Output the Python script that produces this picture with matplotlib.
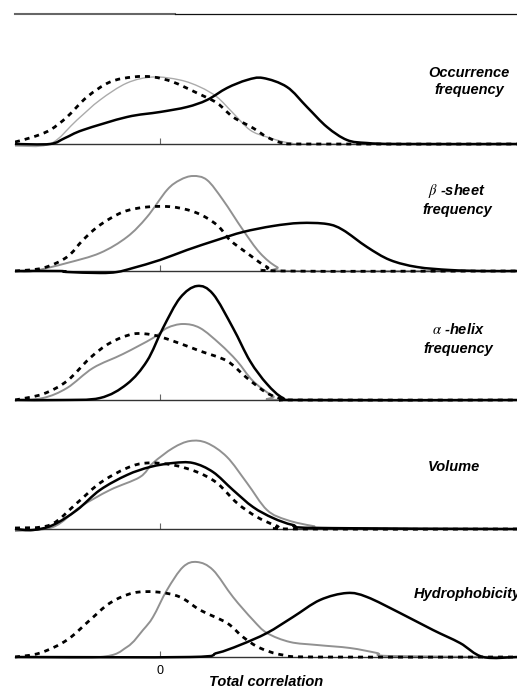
import matplotlib
matplotlib.use("Agg")
import matplotlib.pyplot as plt
from matplotlib.lines import Line2D
from matplotlib.path import Path
from matplotlib.patches import PathPatch

plt.rcParams["font.family"] = ["Liberation Sans", "DejaVu Sans"]
plt.rcParams["mathtext.fontset"] = "stix"

# Total correlation values (x) and density heights (y) for each property.
# Series: "all" = solid black, "partial" = grey, "random" = dashed black.
occ_black_x = [-0.29, -0.22, -0.19, -0.154, -0.066, 0.0, 0.054, 0.094, 0.134, 0.174, 0.206, 0.254, 0.294, 0.334, 0.374, 0.414, 0.48, 0.714]
occ_black_y = [0.0, 0.0, 0.06, 0.14, 0.27, 0.32, 0.37, 0.44, 0.56, 0.64, 0.66, 0.57, 0.37, 0.17, 0.04, 0.01, 0.0, 0.0]
occ_dash_x = [-0.29, -0.254, -0.22, -0.186, -0.146, -0.10, -0.054, -0.014, 0.026, 0.074, 0.114, 0.146, 0.186, 0.214, 0.246, 0.30, 0.714]
occ_dash_y = [0.02, 0.07, 0.14, 0.27, 0.47, 0.62, 0.67, 0.67, 0.62, 0.51, 0.41, 0.27, 0.16, 0.07, 0.01, 0.0, 0.0]
occ_grey_x = [-0.29, -0.22, -0.166, -0.12, -0.066, -0.014, 0.04, 0.08, 0.114, 0.146, 0.18, 0.214, 0.26, 0.32, 0.714]
occ_grey_y = [-0.02, 0.0, 0.24, 0.44, 0.61, 0.67, 0.64, 0.57, 0.47, 0.31, 0.14, 0.07, 0.01, 0.0, 0.0]

beta_black_x = [-0.29, -0.20, -0.186, -0.12, -0.086, -0.054, 0.0, 0.054, 0.114, 0.166, 0.226, 0.28, 0.334, 0.366, 0.414, 0.46, 0.514, 0.58, 0.646, 0.714]
beta_black_y = [0.0, 0.0, -0.01, -0.02, -0.01, 0.03, 0.11, 0.21, 0.31, 0.39, 0.45, 0.48, 0.47, 0.41, 0.24, 0.11, 0.04, 0.01, 0.0, 0.0]
beta_dash_x = [-0.29, -0.234, -0.186, -0.154, -0.12, -0.074, -0.026, 0.026, 0.074, 0.114, 0.14, 0.174, 0.214, 0.246, 0.714]
beta_dash_y = [0.0, 0.03, 0.14, 0.31, 0.46, 0.59, 0.64, 0.64, 0.58, 0.46, 0.31, 0.18, 0.04, 0.0, 0.0]
beta_grey_x = [-0.29, -0.254, -0.186, -0.12, -0.066, -0.026, 0.014, 0.04, 0.066, 0.094, 0.126, 0.166, 0.20, 0.234, 0.266, 0.714]
beta_grey_y = [0.0, 0.0, 0.08, 0.18, 0.34, 0.54, 0.81, 0.91, 0.95, 0.91, 0.71, 0.41, 0.18, 0.04, 0.0, 0.0]

alpha_black_x = [-0.29, -0.20, -0.12, -0.066, -0.026, 0.006, 0.04, 0.074, 0.106, 0.146, 0.18, 0.214, 0.246, 0.28, 0.714]
alpha_black_y = [0.0, 0.0, 0.02, 0.16, 0.39, 0.72, 1.02, 1.14, 1.06, 0.72, 0.39, 0.16, 0.02, 0.0, 0.0]
alpha_dash_x = [-0.29, -0.234, -0.186, -0.14, -0.10, -0.054, -0.014, 0.026, 0.08, 0.134, 0.174, 0.214, 0.246, 0.28, 0.714]
alpha_dash_y = [0.0, 0.06, 0.19, 0.42, 0.57, 0.66, 0.65, 0.59, 0.49, 0.39, 0.22, 0.07, 0.01, 0.0, 0.0]
alpha_grey_x = [-0.29, -0.234, -0.186, -0.134, -0.074, -0.014, 0.014, 0.046, 0.08, 0.12, 0.154, 0.186, 0.226, 0.254, 0.714]
alpha_grey_y = [0.0, 0.02, 0.12, 0.32, 0.46, 0.62, 0.72, 0.76, 0.72, 0.56, 0.39, 0.19, 0.04, 0.0, 0.0]

vol_black_x = [-0.29, -0.254, -0.214, -0.166, -0.12, -0.066, -0.02, 0.026, 0.066, 0.106, 0.146, 0.186, 0.226, 0.266, 0.314, 0.714]
vol_black_y = [0.0, -0.01, 0.04, 0.19, 0.39, 0.54, 0.62, 0.66, 0.66, 0.57, 0.39, 0.22, 0.11, 0.04, 0.01, 0.0]
vol_dash_x = [-0.29, -0.22, -0.166, -0.12, -0.066, -0.026, 0.026, 0.074, 0.114, 0.154, 0.194, 0.234, 0.266, 0.714]
vol_dash_y = [0.01, 0.04, 0.26, 0.46, 0.61, 0.66, 0.64, 0.57, 0.46, 0.26, 0.12, 0.03, 0.0, 0.0]
vol_grey_x = [-0.29, -0.214, -0.16, -0.10, -0.04, -0.014, 0.026, 0.06, 0.094, 0.134, 0.174, 0.214, 0.254, 0.306, 0.346, 0.714]
vol_grey_y = [-0.02, 0.02, 0.22, 0.39, 0.52, 0.66, 0.81, 0.88, 0.86, 0.72, 0.46, 0.19, 0.09, 0.03, 0.01, 0.0]

hyd_black_x = [-0.29, 0.06, 0.114, 0.16, 0.214, 0.266, 0.32, 0.374, 0.414, 0.48, 0.546, 0.60, 0.646, 0.714]
hyd_black_y = [0.0, 0.0, 0.04, 0.12, 0.24, 0.40, 0.57, 0.64, 0.60, 0.44, 0.27, 0.14, 0.0, 0.0]
hyd_dash_x = [-0.29, -0.24, -0.186, -0.14, -0.10, -0.054, -0.006, 0.04, 0.08, 0.134, 0.166, 0.20, 0.246, 0.314, 0.714]
hyd_dash_y = [0.0, 0.04, 0.17, 0.37, 0.54, 0.64, 0.65, 0.60, 0.47, 0.34, 0.20, 0.09, 0.02, 0.0, 0.0]
hyd_grey_x = [-0.29, -0.12, -0.066, -0.034, -0.014, 0.014, 0.046, 0.074, 0.106, 0.146, 0.186, 0.214, 0.26, 0.314, 0.38, 0.434, 0.46, 0.714]
hyd_grey_y = [0.0, 0.0, 0.10, 0.27, 0.40, 0.67, 0.90, 0.95, 0.87, 0.60, 0.37, 0.24, 0.15, 0.12, 0.09, 0.04, 0.01, 0.0]

panels = [
    ((occ_black_x, occ_black_y), (occ_dash_x, occ_dash_y), (occ_grey_x, occ_grey_y)),
    ((beta_black_x, beta_black_y), (beta_dash_x, beta_dash_y), (beta_grey_x, beta_grey_y)),
    ((alpha_black_x, alpha_black_y), (alpha_dash_x, alpha_dash_y), (alpha_grey_x, alpha_grey_y)),
    ((vol_black_x, vol_black_y), (vol_dash_x, vol_dash_y), (vol_grey_x, vol_grey_y)),
    ((hyd_black_x, hyd_black_y), (hyd_dash_x, hyd_dash_y), (hyd_grey_x, hyd_grey_y)),
]


def smooth_line(ax, xs, ys, **kw):
    """Draw a smoothed line through the points (cubic Bezier, Catmull-Rom tangents)."""
    pts = list(zip(xs, ys))
    n = len(pts)
    verts = [pts[0]]
    codes = [Path.MOVETO]
    for i in range(n - 1):
        p0 = pts[i - 1] if i > 0 else pts[i]
        p1 = pts[i]
        p2 = pts[i + 1]
        p3 = pts[i + 2] if i + 2 < n else pts[i + 1]
        c1 = (p1[0] + (p2[0] - p0[0]) / 6, p1[1] + (p2[1] - p0[1]) / 6)
        c2 = (p2[0] - (p3[0] - p1[0]) / 6, p2[1] - (p3[1] - p1[1]) / 6)
        verts += [c1, c2, p2]
        codes += [Path.CURVE4] * 3
    patch = PathPatch(Path(verts, codes), fill=False, **kw)
    ax.add_patch(patch)
    return patch


W, H = 517, 688
fig = plt.figure(figsize=(W / 100, H / 100), dpi=100)

baselines = [144, 271, 400, 529, 657]
x_left, x_right = 15, 517
xlim = (-0.29, 0.714)
ylim = (-0.06, 1.25)

for i, (blk, dsh, gry) in enumerate(panels):
    b = baselines[i]
    top = b - 125
    bottom = b + 6
    ax = fig.add_axes([x_left / W, 1 - bottom / H, (x_right - x_left) / W, (bottom - top) / H])
    ax.set_xlim(*xlim)
    ax.set_ylim(*ylim)
    ax.patch.set_alpha(0)
    for s in ("top", "right", "left"):
        ax.spines[s].set_visible(False)
    ax.spines["bottom"].set_position(("data", 0))
    ax.spines["bottom"].set_color("#333333")
    ax.spines["bottom"].set_linewidth(1.0)
    ax.set_yticks([])
    ax.set_xticks([0])
    ax.tick_params(axis="x", direction="in", length=4, width=0.8, color="#666666",
                   labelsize=9, pad=6)
    if i < len(panels) - 1:
        ax.set_xticklabels([])
    else:
        ax.set_xticklabels(["0"])

    grey_lw = 1.0 if i == 0 else 1.4
    grey_c = "#ababab" if i == 0 else "#919191"
    smooth_line(ax, gry[0], gry[1], edgecolor=grey_c, lw=grey_lw, zorder=2)
    smooth_line(ax, dsh[0], dsh[1], edgecolor="black", lw=2.0,
                linestyle=(0, (1.8, 1.8)), zorder=3)
    smooth_line(ax, blk[0], blk[1], edgecolor="black", lw=1.8, zorder=4)

# Rule across the top of the figure
fig.add_artist(Line2D([15 / W, 175 / W], [1 - 14 / H] * 2, color="#666666", lw=1.5))
fig.add_artist(Line2D([175 / W, 517 / W], [1 - 14 / H] * 2, color="#111111", lw=0.9))

lab = dict(fontsize=10.5, fontweight="bold", fontstyle="italic", va="baseline")
fig.text(469 / W, 1 - 77 / H, "Occurrence", ha="center", **lab)
fig.text(469 / W, 1 - 94 / H, "frequency", ha="center", **lab)
fig.text(457 / W, 1 - 195 / H, r"$\beta$ -sheet", ha="center", **lab)
fig.text(457 / W, 1 - 214 / H, "frequency", ha="center", **lab)
fig.text(458 / W, 1 - 334 / H, r"$\alpha$ -helix", ha="center", **lab)
fig.text(458 / W, 1 - 353 / H, "frequency", ha="center", **lab)
fig.text(454 / W, 1 - 471 / H, "Volume", ha="center", **lab)
fig.text(414 / W, 1 - 598 / H, "Hydrophobicity", ha="left", **lab)

fig.text(266 / W, 1 - 686 / H, "Total correlation", ha="center", **lab)

fig.savefig("out.png", dpi=100)
